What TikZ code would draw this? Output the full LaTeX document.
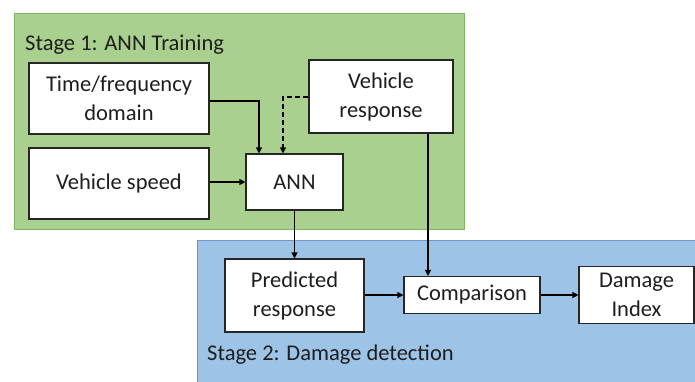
\documentclass[tikz,border=0pt]{standalone}
\usepackage{fontspec}
\setmainfont{Carlito}
\usetikzlibrary{arrows.meta}
\definecolor{gfill}{RGB}{169,208,142}
\definecolor{gdraw}{RGB}{130,178,100}
\definecolor{bfill}{RGB}{157,195,230}
\definecolor{bdraw}{RGB}{110,150,205}
\definecolor{txt}{RGB}{30,30,30}
\tikzset{
  box/.style={draw=black!85, line width=1.1pt, fill=white, inner sep=0pt, align=center, text=txt, font=\fontsize{22.5}{29}\selectfont},
  conn/.style={line width=1.1pt, -{Triangle[length=6pt,width=6pt]}},
  stagelbl/.style={anchor=west, text=txt, font=\fontsize{22.5}{27}\selectfont, inner sep=0pt}
}
\begin{document}
\begin{tikzpicture}[x=1pt,y=-1pt]
\useasboundingbox (0,0) rectangle (695,381);
% panels
\path[fill=bfill, draw=bdraw, line width=1pt] (197,240.5) rectangle (697,383);
\path[fill=gfill, draw=gdraw, line width=1pt] (14,13) rectangle (464,229);
\node[stagelbl] (s1) at (25,45) {Stage 1: ANN Training};
\node[stagelbl] (s2) at (207,355) {Stage 2: Damage detection};
% boxes
\node[box, minimum width=180pt, minimum height=71pt] (tf) at (119,98.5) {Time/frequency\\domain};
\node[box, minimum width=180pt, minimum height=71pt] (vs) at (119,183.5) {Vehicle speed};
\node[box, minimum width=144pt, minimum height=73pt] (vr) at (381,96.5) {Vehicle\\response};
\node[box, minimum width=97pt, minimum height=56pt] (ann) at (294.5,182) {ANN};
\node[box, minimum width=139pt, minimum height=73pt] (pr) at (294.5,295.5) {Predicted\\response};
\node[box, minimum width=136pt, minimum height=37pt] (cmp) at (472,295) {Comparison};
\node[box, minimum width=115pt, minimum height=57pt] (di) at (636.5,295) {Damage\\Index};
% connectors
\coordinate (tfa) at ([yshift=-2.5pt]tf.east);
\draw[conn] (tfa) -| ([xshift=-35.5pt]ann.north);
\draw[conn, dash pattern=on 5pt off 3pt] ([yshift=-0.5pt]vr.west) -| ([xshift=-11.5pt]ann.north);
\draw[conn] (vs.east |- ann.west) -- (ann.west);
\draw[conn] (ann.south) -- (pr.north);
\draw[conn] ([xshift=47pt]vr.south) -- ([xshift=-44pt]cmp.north);
\draw[conn] (pr.east |- cmp.west) -- (cmp.west);
\draw[conn] (cmp.east) -- (di.west);
\end{tikzpicture}
\end{document}
